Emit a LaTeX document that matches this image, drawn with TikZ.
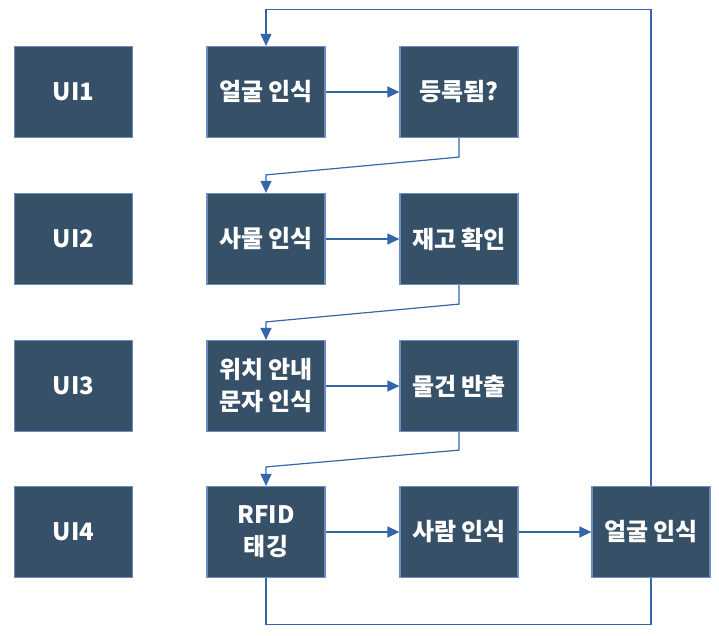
\documentclass[tikz,border=0pt]{standalone}
\usepackage{fontspec}
\newfontfamily\krfont{Noto Sans CJK KR}
\usetikzlibrary{arrows.meta}
\definecolor{boxFill}{RGB}{54,80,104}
\definecolor{boxEdge}{RGB}{108,142,190}
\definecolor{lineBlue}{RGB}{52,102,170}
\begin{document}
\begin{tikzpicture}
[lineDecorate/.style={-{Triangle[length=12pt,width=11pt]},draw=lineBlue,line width=1.2pt},%
  plainDecorate/.style={-,draw=lineBlue,line width=1.2pt},
  nodeDecorate/.style={shape=rectangle,draw=boxEdge,line width=1.2pt,fill=boxFill,
    minimum width=118pt,minimum height=91pt,inner sep=0pt,text=white,align=center,
    font=\krfont\bfseries\fontsize{24}{32}\selectfont},
  x=1pt,y=-1pt]
\useasboundingbox (0,0) rectangle (719,636);
%% boxes
\foreach \nodename/\x/\y/\txt in {
  ui1/73.5/92/UI1, ui2/73.5/239/UI2, ui3/73.5/386/UI3, ui4/73.5/532/UI4,
  face1/266/92/{얼굴 인식}, reg/459/92/{등록됨?},
  obj/266/239/{사물 인식}, stock/459/239/{재고 확인},
  sign/266/386/{위치 안내\\문자 인식}, out/459/386/{물건 반출},
  rfid/266/532/{RFID\\태깅}, person/459/532/{사람 인식},
  face2/651/532/{얼굴 인식}}
{
  \node (\nodename) at (\x,\y) [nodeDecorate] {\txt};
}
%% arrows
\path
\foreach \startnode/\endnode in {
  face1/reg, obj/stock, sign/out, rfid/person, person/face2}
{
  (\startnode) edge[lineDecorate] (\endnode)
};
\draw[lineDecorate] (reg.south) -- ++(0,19) -- ([yshift=18pt]obj.north) -- (obj.north);
\draw[lineDecorate] (stock.south) -- ++(0,19) -- ([yshift=18pt]sign.north) -- (sign.north);
\draw[lineDecorate] (out.south) -- ++(0,18) -- ([yshift=19pt]rfid.north) -- (rfid.north);
\draw[plainDecorate] (rfid.south) -- ++(0,46) -| (face2.south);
\draw[lineDecorate] (face2.north) |- ([yshift=36pt]face1.north) -- (face1.north);
\end{tikzpicture}
\end{document}
